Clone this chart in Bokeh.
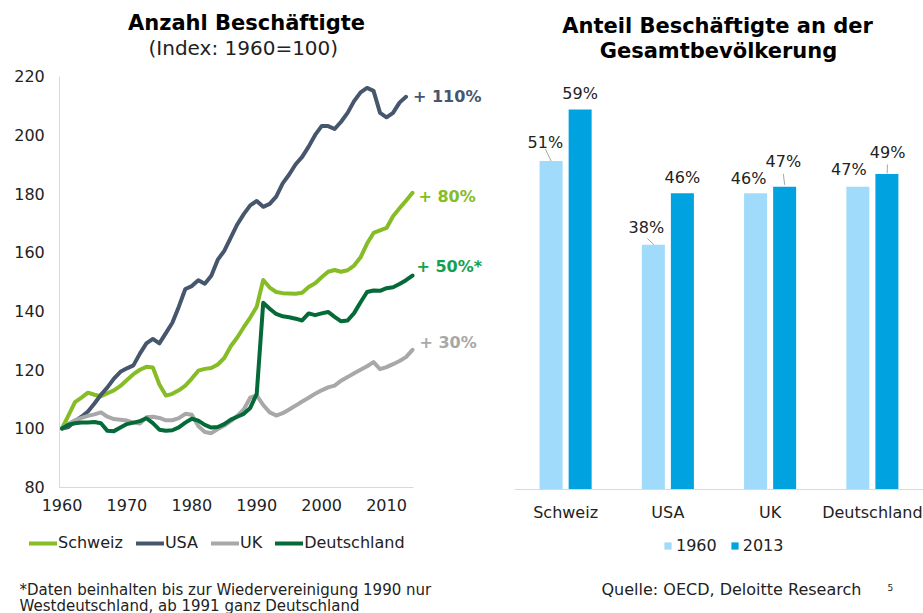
from bokeh.plotting import figure
from bokeh.models import (Range1d, FactorRange, Label, ColumnDataSource, LinearAxis,
                          CategoricalAxis, FixedTicker)
from bokeh.transform import dodge
from bokeh.layouts import row
from bokeh.embed import file_html
from bokeh.resources import INLINE
from bokeh.core.properties import value

# ---------------- data ----------------
years = list(range(1960, 2015))
schweiz = [100, 104.5, 109, 110.5, 112.2, 111.5, 111, 112, 113, 114.5,
           116.5, 118.5, 120, 121, 120.8, 115, 111.2, 111.8, 113, 114.6,
           117, 119.7, 120.3, 120.6, 121.8, 124, 128, 131, 134.5, 137.8,
           141.5, 150.6, 148, 146.5, 146.1, 146, 145.9, 146.2, 148.2, 149.5,
           151.5, 153.4, 154, 153.4, 153.9, 155.5, 158.3, 163, 166.6, 167.5,
           168.3, 172.3, 175, 177.6, 180.3]
usa = [100, 100.5, 102.5, 104, 105.8, 108.5, 111.5, 114, 117, 119.3,
       120.5, 121.5, 125.5, 129, 130.5, 129, 132.5, 136, 141.5, 147.5,
       148.5, 150.5, 149.3, 152, 157.5, 160.5, 165, 169.5, 173, 176,
       177.5, 175.5, 176.5, 179, 183.5, 186.5, 190, 192.5, 196, 200,
       203, 203, 202, 204.5, 207.5, 211.5, 214.5, 216, 215, 207.5,
       206, 207.5, 211, 213]
uk = [100, 101.5, 102.8, 103.6, 104.3, 104.8, 105.5, 104, 103.2, 103,
      102.7, 102, 101.7, 103.8, 104, 103.6, 102.8, 102.8, 103.5, 105,
      104.7, 100.8, 98.8, 98.4, 99.8, 101, 102.5, 104.3, 106.5, 110.5,
      111.3, 108, 105.5, 104.4, 105.2, 106.5, 107.8, 109.2, 110.5, 111.8,
      113, 114, 114.6, 116.3, 117.5, 118.8, 120, 121.2, 122.6, 120.2,
      120.9, 121.9, 123, 124.3, 126.8]
deutschland = [100, 101.3, 101.8, 102, 102, 102.2, 101.8, 99.2, 99.1, 100.3,
               101.5, 102, 102.5, 103.5, 101.8, 99.6, 99.2, 99.4, 100.4, 102,
               103.3, 102.7, 101.2, 100.3, 100.5, 101.5, 103, 104, 105, 107,
               111.8, 142.8, 140.8, 139, 138.2, 137.9, 137.4, 136.8, 139.2, 138.6,
               139.2, 139.7, 138, 136.5, 136.8, 139.3, 143, 146.5, 147, 146.9,
               147.8, 148.1, 149.2, 150.5, 152.1]
series_names = ["Schweiz", "USA", "UK", "Deutschland"]
end_labels = ["+ 80%", "+ 110%", "+ 30%", "+ 50%*"]
x_ticks = [1960, 1970, 1980, 1990, 2000, 2010]
y_ticks = [80, 100, 120, 140, 160, 180, 200, 220]

countries = ["Schweiz", "USA", "UK", "Deutschland"]
share_1960 = [51, 38, 46, 47]
share_2013 = [59, 46, 47, 49]

# ---------------- styles ----------------
FONT = "DejaVu Sans"
TXT = "#222222"
line_colors = ["#86BC25", "#46566D", "#A8A8A8", "#046A38"]
label_colors = ["#86BC25", "#46566D", "#A8A8A8", "#14A04F"]
H = 613

# ---------------- left chart ----------------
# axis box (figure pixels): left, right, top, bottom
X0, X1, Y0, Y1 = 1959.66, 2014.2, 80, 220
AX_L, AX_R, AX_T, AX_B = 59.3, 413.3, 75.7, 486.7
W1 = 508
PX_X = (AX_R - AX_L) / (X1 - X0)
PX_Y = (AX_B - AX_T) / (Y1 - Y0)


def lx(fx):
    return X0 + (fx - AX_L) / PX_X


def ly(fy):
    return Y0 + (AX_B - fy) / PX_Y


p1 = figure(width=W1, height=H, x_range=Range1d(lx(0), lx(W1)), y_range=Range1d(ly(H), ly(0)),
            output_backend="svg", toolbar_location=None,
            x_axis_location=None, y_axis_location=None,
            min_border_left=0, min_border_right=0, min_border_top=0, min_border_bottom=0)
p1.outline_line_color = None
p1.grid.visible = False
p1.background_fill_color = "white"
p1.border_fill_color = "white"

xax = LinearAxis(fixed_location=Y0, bounds=(X0, X1), ticker=FixedTicker(ticks=x_ticks))
yax = LinearAxis(fixed_location=X0, bounds=(Y0, Y1), ticker=FixedTicker(ticks=y_ticks))
p1.add_layout(xax, "below")
p1.add_layout(yax, "left")
for ax in (xax, yax):
    ax.axis_line_color = "#D9D9D9"
    ax.axis_line_width = 1
    ax.major_tick_line_color = None
    ax.minor_tick_line_color = None
    ax.major_tick_out = 0
    ax.major_tick_in = 0
    ax.major_label_text_font = FONT
    ax.major_label_text_font_size = "16px"
    ax.major_label_text_color = TXT
xax.major_label_standoff = 12
yax.major_label_standoff = 15

all_series = [schweiz, usa, uk, deutschland]
for name, ys, col in zip(series_names, all_series, line_colors):
    p1.line(years[:len(ys)], ys, line_width=4, line_color=col, line_join="round",
            line_cap="round", legend_label=name)

# end-of-line labels (pixel nudges)
end_dx = [6, 7, 7, 4]
end_dy = [-3.5, 0, 7.5, 9]
for ys, txt, col, dx, dy in zip(all_series, end_labels, label_colors, end_dx, end_dy):
    last_year = years[len(ys) - 1]
    p1.add_layout(Label(x=last_year + dx / PX_X, y=ys[-1] + dy / PX_Y, text=txt,
                        text_font=FONT, text_font_size="16px", text_font_style="bold",
                        text_color=col, text_baseline="middle", text_align="left"))

leg = p1.legend[0]
leg.orientation = "horizontal"
leg.location = (29, H - 552)
leg.glyph_width = 28
leg.glyph_height = 16
leg.label_height = 16
leg.label_standoff = 1
leg.spacing = 13
leg.padding = 0
leg.margin = 0
leg.border_line_color = None
leg.background_fill_alpha = 0
leg.label_text_font = FONT
leg.label_text_font_size = "16px"
leg.label_text_color = TXT


def text1(fx, fy, txt, size, bold=False, align="center", color=TXT):
    p1.add_layout(Label(x=lx(fx), y=ly(fy), text=txt, text_font=FONT, text_font_size=size,
                        text_font_style="bold" if bold else "normal", text_color=color,
                        text_align=align, text_baseline="middle"))


text1(246, 22, "Anzahl Beschäftigte", "21px", bold=True, color="black")
text1(246, 47, "(Index:  1960=100)", "20px")
text1(19, 589, "*Daten beinhalten bis zur Wiedervereinigung 1990 nur", "15px", align="left")
text1(19, 605, "Westdeutschland, ab 1991 ganz Deutschland", "15px", align="left")

# ---------------- right chart ----------------
W2 = 415
B_L, B_BASE = 6, 489
PX_B = 6.44
CAT_PX = (W2 - B_L) / len(countries)


def by(fy):
    return (B_BASE - fy) / PX_B


def bx(fx):
    return (fx - B_L) / CAT_PX


p2 = figure(width=W2, height=H, x_range=FactorRange(*countries),
            y_range=Range1d(by(H), by(0)),
            output_backend="svg", toolbar_location=None,
            x_axis_location=None, y_axis_location=None,
            min_border_left=B_L, min_border_right=0, min_border_top=0, min_border_bottom=0)
p2.outline_line_color = None
p2.grid.visible = False
p2.background_fill_color = "white"
p2.border_fill_color = "white"

xa = CategoricalAxis(fixed_location=0)
p2.add_layout(xa, "below")
xa.axis_line_color = "#D9D9D9"
xa.major_tick_line_color = None
xa.minor_tick_line_color = None
xa.major_tick_out = 0
xa.major_tick_in = 0
xa.major_label_standoff = 13
xa.major_label_text_font = FONT
xa.major_label_text_font_size = "16px"
xa.major_label_text_color = TXT

OFF = 0.142
BW = 0.225
src = ColumnDataSource(dict(cat=countries, v1960=share_1960, v2013=share_2013))
p2.vbar(x=dodge("cat", -OFF, range=p2.x_range), top="v1960", width=BW, source=src,
        fill_color="#A0DBFB", line_color=None, legend_label="1960")
p2.vbar(x=dodge("cat", OFF, range=p2.x_range), top="v2013", width=BW, source=src,
        fill_color="#00A3E0", line_color=None, legend_label="2013")

# value labels (pixel nudges: dx right, dy above bar top)
lab_dx_1960 = [-5.7, -7, -7, -9]
lab_dy_1960 = [18.3, 17.6, 14.8, 17.3]
lab_dx_2013 = [0, 0, -1.3, 0.7]
lab_dy_2013 = [15.7, 15.8, 25.6, 21.1]
for vals, dxs, dys, off in ((share_1960, lab_dx_1960, lab_dy_1960, -OFF),
                            (share_2013, lab_dx_2013, lab_dy_2013, OFF)):
    s = ColumnDataSource(dict(cat=countries,
                              ly=[v + d / PX_B for v, d in zip(vals, dys)],
                              lab=[f"{v}%" for v in vals], dx=dxs))
    p2.text(x=dodge("cat", off, range=p2.x_range), y="ly", text="lab", x_offset="dx",
            source=s, text_font=value(FONT), text_font_size="16px", text_color=TXT,
            text_align="center", text_baseline="middle")

# leader lines: (country index, series, dx0, dy0, dx1, dy1) in px from bar top centre
leaders = [(0, 0, 0, 0, -5.7, 12), (1, 0, 0.6, 0, -6, 6.3),
           (2, 1, 0, 2, -1.3, 13), (3, 1, 0.3, 0.5, 0.5, 9.4)]
for ci, si, dx0, dy0, dx1, dy1 in leaders:
    vals = share_1960 if si == 0 else share_2013
    off = -OFF if si == 0 else OFF
    v = vals[ci]
    s = ColumnDataSource(dict(cat=[countries[ci]], y0=[v + dy0 / PX_B], y1=[v + dy1 / PX_B]))
    p2.segment(x0=dodge("cat", off + dx0 / CAT_PX, range=p2.x_range), y0="y0",
               x1=dodge("cat", off + dx1 / CAT_PX, range=p2.x_range), y1="y1",
               source=s, line_color="#A6A6A6", line_width=1)

leg2 = p2.legend[0]
leg2.orientation = "horizontal"
leg2.location = (155 - B_L, H - 555)
leg2.glyph_width = 9
leg2.glyph_height = 9
leg2.label_height = 16
leg2.label_standoff = 4
leg2.spacing = 13
leg2.padding = 0
leg2.margin = 0
leg2.border_line_color = None
leg2.background_fill_alpha = 0
leg2.label_text_font = FONT
leg2.label_text_font_size = "16px"
leg2.label_text_color = TXT


def text2(fx, fy, txt, size, bold=False, align="center", color=TXT):
    p2.add_layout(Label(x=bx(fx), y=by(fy), text=txt, text_font=FONT, text_font_size=size,
                        text_font_style="bold" if bold else "normal", text_color=color,
                        text_align=align, text_baseline="middle"))


text2(209, 25, "Anteil Beschäftigte an der", "21px", bold=True, color="black")
text2(210, 50, "Gesamtbevölkerung", "21px", bold=True, color="black")
text2(93, 589, "Quelle:  OECD,  Deloitte Research", "16px", align="left")
text2(379, 587, "5", "9px", align="left")

layout = row(p1, p2)
open("out.html", "w").write(file_html(layout, INLINE))
